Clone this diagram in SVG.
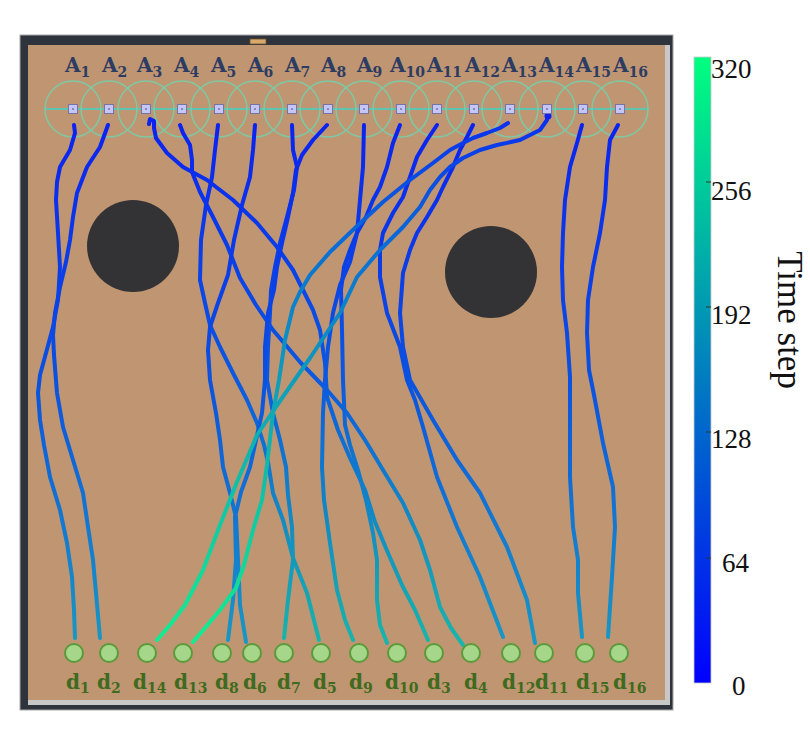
<svg xmlns="http://www.w3.org/2000/svg" width="810" height="747" viewBox="0 0 810 747">
<defs>
<linearGradient id="gB" gradientUnits="userSpaceOnUse" x1="0" y1="120" x2="0" y2="645">
<stop offset="0" stop-color="#0A22F2"/><stop offset="0.5" stop-color="#0B52E0"/><stop offset="1" stop-color="#1898C4"/>
</linearGradient>
<linearGradient id="gT" gradientUnits="userSpaceOnUse" x1="0" y1="120" x2="0" y2="645">
<stop offset="0" stop-color="#0A22F2"/><stop offset="0.5" stop-color="#0B5AE0"/><stop offset="1" stop-color="#18B6AA"/>
</linearGradient>
<linearGradient id="gG" gradientUnits="userSpaceOnUse" x1="0" y1="120" x2="0" y2="645">
<stop offset="0" stop-color="#0A30F0"/><stop offset="0.25" stop-color="#0A70D4"/><stop offset="0.6" stop-color="#10B0B0"/><stop offset="1" stop-color="#12EE90"/>
</linearGradient>
<linearGradient id="cbar" x1="0" y1="1" x2="0" y2="0">
<stop offset="0" stop-color="#0000FF"/><stop offset="1" stop-color="#00FF80"/>
</linearGradient>
</defs>
<style>
.traj{fill:none;stroke-width:4;stroke-linecap:round;stroke-linejoin:round}
.gB{stroke:url(#gB)}.gT{stroke:url(#gT)}.gG{stroke:url(#gG)}
.rng{fill:none;stroke:#78CDA8;stroke-width:1.6;opacity:0.9}
.sq{fill:#C6C6F6;stroke:#7474A8;stroke-width:1}
.dot{fill:#7474A8}
.lblA{font-family:"DejaVu Serif","Liberation Serif",serif;font-weight:bold;font-size:20px;fill:#2C3C62}
.lblD{font-family:"DejaVu Serif","Liberation Serif",serif;font-weight:bold;font-size:20px;fill:#3E6B1E}
.sub{font-size:14px}
.dest{fill:#A6D68A;stroke:#5B9A3A;stroke-width:2}
.obs{fill:#333336}
.tk{font-family:"Liberation Serif",serif;font-size:27px;fill:#111}
</style>
<rect x="0" y="0" width="810" height="747" fill="#FFFFFF"/>
<g id="frame">
<rect x="20" y="35" width="653" height="675" fill="#2F343C" stroke="#A8A8A8" stroke-width="1"/>
<rect x="28" y="45" width="642" height="660" fill="#C8C8C8"/>
<rect x="28" y="45" width="637" height="655" fill="#C09571"/>
<rect x="250" y="39" width="16" height="5" fill="#D9A86C" stroke="#6A5030" stroke-width="0.8"/>
</g>
<g id="obstacles">
<circle class="obs" cx="133" cy="246" r="46"/>
<circle class="obs" cx="491" cy="272" r="46"/>
</g>
<g id="ranges">
<line x1="45" y1="109" x2="648" y2="109" stroke="#3CD6C8" stroke-width="1.5"/>
<circle class="rng" cx="73" cy="109" r="28"/><circle class="rng" cx="109" cy="109" r="28"/><circle class="rng" cx="146" cy="109" r="28"/><circle class="rng" cx="182" cy="109" r="28"/>
<circle class="rng" cx="219" cy="109" r="28"/><circle class="rng" cx="255" cy="109" r="28"/><circle class="rng" cx="292" cy="109" r="28"/><circle class="rng" cx="328" cy="109" r="28"/>
<circle class="rng" cx="364" cy="109" r="28"/><circle class="rng" cx="401" cy="109" r="28"/><circle class="rng" cx="437" cy="109" r="28"/><circle class="rng" cx="474" cy="109" r="28"/>
<circle class="rng" cx="510" cy="109" r="28"/><circle class="rng" cx="547" cy="109" r="28"/><circle class="rng" cx="583" cy="109" r="28"/><circle class="rng" cx="620" cy="109" r="28"/>
</g>
<g id="connectors">
<path class="traj gB" d="M74,125 L75,133 L70,150 L60,167 L57,182 L56,200 L58,233 L60,267 L58,300 L53,327 L46,353 L40,375 L38,393 L40,420 L44,445 L50,477 L60,510 L67,543 L72,577 L74,610 L75,638"/>
<path class="traj gB" d="M108,125 L100,147 L87,167 L77,193 L73,217 L70,240 L66,262 L60,287 L55,313 L53,335 L54,355 L57,393 L63,427 L73,460 L83,493 L88,527 L93,560 L96,593 L100,638"/>
<path class="traj gT" d="M149,124 L150,119 L154,121 L154,128 L156,138 L167,153 L183,167 L207,180 L233,200 L257,223 L277,247 L293,270 L303,290 L313,310 L320,330 L325,363 L327,397 L338,430 L350,458 L365,490 L375,522 L388,553 L402,585 L415,610 L428,640"/>
<path class="traj gT" d="M180,125 L183,133 L190,145 L192,160 L192,172 L200,192 L213,217 L227,245 L240,278 L256,305 L273,330 L300,362 L327,390 L347,413 L365,440 L383,470 L403,503 L420,540 L430,570 L440,607 L451,628 L463,645"/>
<path class="traj gT" d="M218,125 L215,150 L212,177 L206,205 L201,240 L200,280 L205,303 L210,325 L220,347 L233,373 L247,400 L257,423 L264,445 L268,462 L273,493 L283,520 L293,558 L307,593 L319,640"/>
<path class="traj gB" d="M255,125 L253,150 L250,177 L242,205 L234,240 L228,275 L218,303 L210,327 L208,350 L210,380 L216,413 L220,440 L223,467 L230,493 L236,517 L238,560 L240,605 L246,642"/>
<path class="traj gT" d="M292,125 L293,150 L297,167 L294,190 L287,217 L280,243 L275,267 L271,290 L270,313 L268,347 L267,380 L273,413 L280,440 L286,467 L288,495 L292,527 L293,560 L288,600 L284,638"/>
<path class="traj gB" d="M327,125 L313,140 L302,155 L296,170 L293,193 L288,217 L282,243 L277,267 L274,290 L268,313 L265,347 L265,380 L262,413 L256,440 L250,467 L241,492 L235,517 L236,560 L233,600 L228,640"/>
<path class="traj gT" d="M364,125 L363,167 L360,200 L357,233 L350,262 L340,285 L333,313 L328,347 L325,380 L323,413 L322,467 L324,500 L330,543 L337,590 L345,620 L353,640"/>
<path class="traj gT" d="M400,125 L393,143 L387,167 L380,187 L373,200 L366,217 L357,233 L350,250 L344,267 L341,290 L342,330 L343,380 L345,425 L350,445 L358,470 L366,500 L373,533 L377,560 L377,600 L380,625 L387,643"/>
<path class="traj gB" d="M437,125 L427,140 L417,157 L410,177 L403,197 L393,213 L383,233 L380,250 L380,277 L387,313 L400,347 L407,380 L415,400 L423,427 L437,477 L457,527 L480,577 L503,637"/>
<path class="traj gB" d="M473,125 L467,137 L460,150 L453,167 L443,187 L437,200 L427,217 L417,233 L410,250 L403,273 L400,313 L403,347 L410,380 L433,420 L457,460 L480,493 L507,547 L527,600 L535,643"/>
<path class="traj gG" d="M508,123 L500,128 L487,133 L473,138 L463,143 L450,150 L433,163 L410,180 L383,202 L355,228 L330,252 L310,275 L300,292 L293,307 L285,340 L279,380 L273,413 L267,465 L262,500 L253,530 L244,565 L236,588 L220,610 L205,628 L193,642"/>
<path class="traj gG" d="M548,113 L547,120 L540,130 L520,140 L497,145 L480,150 L463,158 L450,167 L440,177 L430,190 L420,207 L403,227 L380,250 L357,277 L340,313 L310,358 L282,398 L257,435 L237,482 L220,525 L203,570 L185,605 L170,625 L157,640"/>
<circle cx="548" cy="116" r="3.5" fill="#0A22F2"/>
<path class="traj gB" d="M582,125 L577,143 L570,167 L565,200 L563,233 L562,267 L563,300 L567,333 L570,377 L570,410 L570,477 L573,527 L578,560 L578,593 L582,637"/>
<path class="traj gB" d="M618,125 L610,140 L607,167 L605,200 L600,233 L593,267 L588,300 L587,333 L589,370 L594,395 L603,443 L613,487 L615,527 L612,577 L608,637"/>
</g>
<g id="A1"><rect class="sq" x="68.5" y="104.5" width="9" height="9"/><circle class="dot" cx="73" cy="109" r="1"/><text class="lblA" x="65" y="72">A<tspan class="sub" dy="5">1</tspan></text></g>
<g id="A2"><rect class="sq" x="104.5" y="104.5" width="9" height="9"/><circle class="dot" cx="109" cy="109" r="1"/><text class="lblA" x="102" y="72">A<tspan class="sub" dy="5">2</tspan></text></g>
<g id="A3"><rect class="sq" x="141.5" y="104.5" width="9" height="9"/><circle class="dot" cx="146" cy="109" r="1"/><text class="lblA" x="137" y="72">A<tspan class="sub" dy="5">3</tspan></text></g>
<g id="A4"><rect class="sq" x="177.5" y="104.5" width="9" height="9"/><circle class="dot" cx="182" cy="109" r="1"/><text class="lblA" x="174" y="72">A<tspan class="sub" dy="5">4</tspan></text></g>
<g id="A5"><rect class="sq" x="214.5" y="104.5" width="9" height="9"/><circle class="dot" cx="219" cy="109" r="1"/><text class="lblA" x="211" y="72">A<tspan class="sub" dy="5">5</tspan></text></g>
<g id="A6"><rect class="sq" x="250.5" y="104.5" width="9" height="9"/><circle class="dot" cx="255" cy="109" r="1"/><text class="lblA" x="248" y="72">A<tspan class="sub" dy="5">6</tspan></text></g>
<g id="A7"><rect class="sq" x="287.5" y="104.5" width="9" height="9"/><circle class="dot" cx="292" cy="109" r="1"/><text class="lblA" x="285" y="72">A<tspan class="sub" dy="5">7</tspan></text></g>
<g id="A8"><rect class="sq" x="323.5" y="104.5" width="9" height="9"/><circle class="dot" cx="328" cy="109" r="1"/><text class="lblA" x="321" y="72">A<tspan class="sub" dy="5">8</tspan></text></g>
<g id="A9"><rect class="sq" x="359.5" y="104.5" width="9" height="9"/><circle class="dot" cx="364" cy="109" r="1"/><text class="lblA" x="357" y="72">A<tspan class="sub" dy="5">9</tspan></text></g>
<g id="A10"><rect class="sq" x="396.5" y="104.5" width="9" height="9"/><circle class="dot" cx="401" cy="109" r="1"/><text class="lblA" x="390" y="72">A<tspan class="sub" dy="5">10</tspan></text></g>
<g id="A11"><rect class="sq" x="432.5" y="104.5" width="9" height="9"/><circle class="dot" cx="437" cy="109" r="1"/><text class="lblA" x="427" y="72">A<tspan class="sub" dy="5">11</tspan></text></g>
<g id="A12"><rect class="sq" x="469.5" y="104.5" width="9" height="9"/><circle class="dot" cx="474" cy="109" r="1"/><text class="lblA" x="465" y="72">A<tspan class="sub" dy="5">12</tspan></text></g>
<g id="A13"><rect class="sq" x="505.5" y="104.5" width="9" height="9"/><circle class="dot" cx="510" cy="109" r="1"/><text class="lblA" x="502" y="72">A<tspan class="sub" dy="5">13</tspan></text></g>
<g id="A14"><rect class="sq" x="542.5" y="104.5" width="9" height="9"/><circle class="dot" cx="547" cy="109" r="1"/><text class="lblA" x="539" y="72">A<tspan class="sub" dy="5">14</tspan></text></g>
<g id="A15"><rect class="sq" x="578.5" y="104.5" width="9" height="9"/><circle class="dot" cx="583" cy="109" r="1"/><text class="lblA" x="576" y="72">A<tspan class="sub" dy="5">15</tspan></text></g>
<g id="A16"><rect class="sq" x="615.5" y="104.5" width="9" height="9"/><circle class="dot" cx="620" cy="109" r="1"/><text class="lblA" x="613" y="72">A<tspan class="sub" dy="5">16</tspan></text></g>
<g id="d1"><circle class="dest" cx="74" cy="653" r="9"/><text class="lblD" x="66" y="689">d<tspan class="sub" dy="4">1</tspan></text></g>
<g id="d2"><circle class="dest" cx="109" cy="653" r="9"/><text class="lblD" x="97" y="689">d<tspan class="sub" dy="4">2</tspan></text></g>
<g id="d14"><circle class="dest" cx="147" cy="653" r="9"/><text class="lblD" x="133" y="689">d<tspan class="sub" dy="4">14</tspan></text></g>
<g id="d13"><circle class="dest" cx="183" cy="653" r="9"/><text class="lblD" x="174" y="689">d<tspan class="sub" dy="4">13</tspan></text></g>
<g id="d8"><circle class="dest" cx="222" cy="653" r="9"/><text class="lblD" x="215" y="689">d<tspan class="sub" dy="4">8</tspan></text></g>
<g id="d6"><circle class="dest" cx="252" cy="653" r="9"/><text class="lblD" x="243" y="689">d<tspan class="sub" dy="4">6</tspan></text></g>
<g id="d7"><circle class="dest" cx="284" cy="653" r="9"/><text class="lblD" x="277" y="689">d<tspan class="sub" dy="4">7</tspan></text></g>
<g id="d5"><circle class="dest" cx="321" cy="653" r="9"/><text class="lblD" x="313" y="689">d<tspan class="sub" dy="4">5</tspan></text></g>
<g id="d9"><circle class="dest" cx="359" cy="653" r="9"/><text class="lblD" x="349" y="689">d<tspan class="sub" dy="4">9</tspan></text></g>
<g id="d10"><circle class="dest" cx="397" cy="653" r="9"/><text class="lblD" x="385" y="689">d<tspan class="sub" dy="4">10</tspan></text></g>
<g id="d3"><circle class="dest" cx="434" cy="653" r="9"/><text class="lblD" x="427" y="689">d<tspan class="sub" dy="4">3</tspan></text></g>
<g id="d4"><circle class="dest" cx="471" cy="653" r="9"/><text class="lblD" x="464" y="689">d<tspan class="sub" dy="4">4</tspan></text></g>
<g id="d12"><circle class="dest" cx="511" cy="653" r="9"/><text class="lblD" x="502" y="689">d<tspan class="sub" dy="4">12</tspan></text></g>
<g id="d11"><circle class="dest" cx="544" cy="653" r="9"/><text class="lblD" x="535" y="689">d<tspan class="sub" dy="4">11</tspan></text></g>
<g id="d15"><circle class="dest" cx="585" cy="653" r="9"/><text class="lblD" x="576" y="689">d<tspan class="sub" dy="4">15</tspan></text></g>
<g id="d16"><circle class="dest" cx="619" cy="653" r="9"/><text class="lblD" x="613" y="689">d<tspan class="sub" dy="4">16</tspan></text></g>
<g id="colorbar">
<rect x="694" y="57" width="17" height="626" fill="url(#cbar)" stroke="#C8C8C8" stroke-width="0.8"/>
<g stroke="#333" stroke-width="1">
<line x1="706" y1="182" x2="711" y2="182"/><line x1="706" y1="307" x2="711" y2="307"/><line x1="706" y1="432" x2="711" y2="432"/><line x1="706" y1="558" x2="711" y2="558"/>
</g>
<text class="tk" x="711" y="78">320</text>
<text class="tk" x="711" y="200">256</text>
<text class="tk" x="711" y="324">192</text>
<text class="tk" x="711" y="448">128</text>
<text class="tk" x="722" y="572">64</text>
<text class="tk" x="732" y="695">0</text>
<text font-family="Liberation Serif, serif" font-size="35" fill="#111" text-anchor="middle" transform="translate(778,320) rotate(90)">Time step</text>
</g>
</svg>
